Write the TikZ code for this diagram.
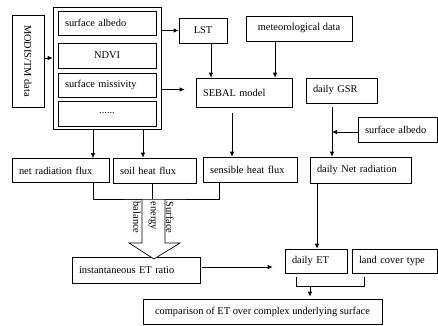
\documentclass[tikz,border=0pt]{standalone}
\usepackage{fontspec}
\setmainfont{Liberation Serif}
\usepackage{tikz}
\usetikzlibrary{arrows.meta}

\tikzset{
	box/.style={draw, line width=0.7pt, inner xsep=7pt, inner ysep=0pt,
		minimum height=25pt, font=\fontsize{10.4}{12}\selectfont},
	lbox/.style={box, align=left},
	arr/.style={line width=0.7pt, -{Latex[length=5pt,width=4.5pt]}},
	lin/.style={line width=0.7pt},
	vtext/.style={rotate=-90, anchor=west, inner sep=0pt,
		font=\fontsize{10.4}{12}\selectfont}
}

\begin{document}
\begin{tikzpicture}[x=1pt, y=-1pt]
	\useasboundingbox (0,0) rectangle (438,325);

	\node (modis) at (28,61) [box, rotate=-90, minimum width=92pt,
		minimum height=32pt] {MODIS/TM data};
	\node (outer) at (107,68) [box, minimum width=108pt,
		minimum height=122pt] {};
	\node (alb1) at (107,23) [lbox, text width=84pt, minimum height=24pt] {surface albedo};
	\node (ndvi) at (107,55.5) [box, text width=84pt, align=center] {NDVI};
	\node (emis) at (107,85) [lbox, text width=84pt, minimum height=24pt] {surface missivity};
	\node (dots) at (107,113.5) [box, text width=84pt, align=center] {......};

	\node (lst) at (203,30.5) [box, minimum width=48pt] {LST};
	\node (met) at (299,28.5) [box, minimum width=106pt] {meteorological data};
	\node (sebal) at (244,92.5) [lbox, text width=82pt, minimum height=29pt] {SEBAL model};
	\node (gsr) at (341.5,90.5) [lbox, text width=57pt] {daily GSR};
	\node (alb2) at (397.5,129.5) [lbox, text width=65pt] {surface albedo};

	\node (net) at (60.5,170.5) [lbox, text width=83pt, minimum height=24pt] {net radiation flux};
	\node (soil) at (154.5,170.5) [lbox, text width=69pt] {soil heat flux};
	\node (sens) at (250,169.5) [lbox, text width=80pt] {sensible heat flux};
	\node (dnet) at (360.5,170) [lbox, text width=87pt, minimum height=26pt] {daily Net radiation};

	\node (inst) at (136,270) [lbox, text width=114pt, minimum height=26pt] {instantaneous ET ratio};
	\node (det) at (316,261) [lbox, text width=48pt, minimum height=24pt] {daily ET};
	\node (land) at (394.75,261) [lbox, text width=71.5pt, minimum height=24pt] {land cover type};
	\node (comp) at (262.5,311.5) [box, minimum width=239pt] {comparison of ET over complex underlying surface};

	\coordinate (join) at (154,199);
	\coordinate (fork) at (310,286);

	\draw[arr] ([yshift=3pt]modis.north) -- ([yshift=3pt]modis.north -| outer.west);
	\draw[arr] (outer.east |- lst.west) -- (lst.west);
	\draw[arr, shorten >=11pt] ([yshift=3pt]outer.east |- sebal.west) -- ([yshift=3pt]sebal.west);
	\draw[arr] ([xshift=8pt]lst.south) -- ([xshift=8pt]lst.south |- sebal.north);
	\draw[arr] ([xshift=-24pt]met.south) -- ([xshift=-24pt]met.south |- sebal.north);
	\draw[arr, shorten <=6pt] ([xshift=-12pt]sebal.south) -- ([xshift=-12pt]sebal.south |- sens.north);
	\draw[arr, shorten <=4pt] ([xshift=-9.5pt]gsr.south) -- ([xshift=-9.5pt]gsr.south |- dnet.north);
	\draw[arr] ([yshift=-2.5pt]alb2.west) -- ([xshift=-9.5pt,yshift=-2.5pt]gsr.south |- alb2.west);
	\draw[arr] ([xshift=-14pt]outer.south) -- ([xshift=-14pt]outer.south |- net.north);
	\draw[arr] ([xshift=36pt]outer.south) -- ([xshift=36pt]outer.south |- soil.north);

	\draw[lin] ([xshift=32.5pt]net.south) |- (join) -| ([xshift=-31pt]sens.south);
	\draw[lin] ([xshift=-2.5pt]soil.south) -- ([xshift=-2.5pt]soil.south |- join);
	\draw[lin, fill=white] ([shift={(-12,0)}]join) -- ++(0,44) -- ++(-13,0)
		-- ([shift={(0,60)}]join) -- ([shift={(26,44)}]join) -- ++(-15,0) -- ++(0,-44);
	\draw[lin] ([xshift=32.5pt]net.south) |- (join) -| ([xshift=-31pt]sens.south);
	\node (t1) at (137,201.5) [vtext] {balance};
	\node (t2) at (152.5,201.5) [vtext] {energy};
	\node (t3) at (170,201.5) [vtext] {Surface};

	\draw[arr, shorten <=2pt, shorten >=12pt] ([yshift=3pt]inst.east) -- ([yshift=3pt]inst.east -| det.west);
	\draw[arr] ([xshift=1pt]det.north |- dnet.south) -- ([xshift=1pt]det.north);
	\draw[lin] ([xshift=-20pt,yshift=-4pt]det.south) |- (fork) -| ([xshift=-30.75pt,yshift=-4pt]land.south);
	\draw[arr, shorten >=2pt] (fork) -- (fork |- comp.north);
\end{tikzpicture}
\end{document}
